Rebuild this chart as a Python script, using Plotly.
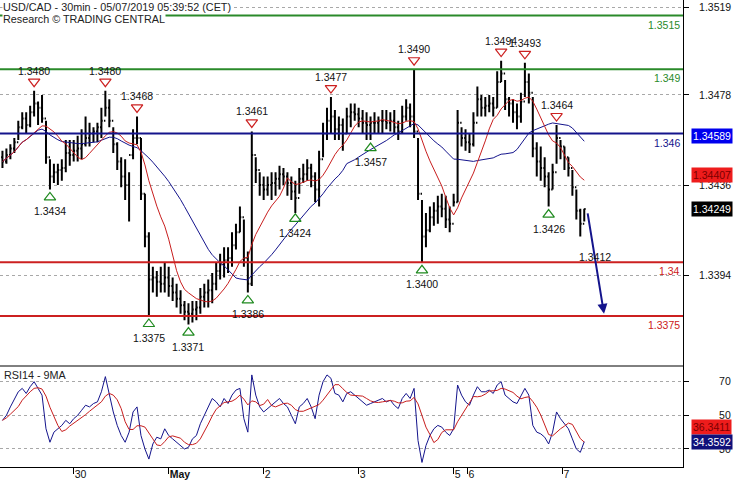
import numpy as np
import pandas as pd
import plotly.graph_objects as go

# ---------------- data ----------------
# bar index = hours since 30 Apr 2019 00:00 CET (weekend gap removed)
bar_idx = list(range(-18, 130))

highs = [
    1.3452, 1.3453, 1.3455, 1.3458, 1.3466, 1.3470, 1.3470, 1.3473, 1.3480, 1.3475,
    1.3478, 1.3466, 1.3448, 1.3446, 1.3446, 1.3448, 1.3457, 1.3457,
    1.3457, 1.3459, 1.3462, 1.3468, 1.3465, 1.3463, 1.3465, 1.3472, 1.3480, 1.3476,
    1.3463, 1.3456, 1.3449, 1.3448, 1.3442, 1.3462, 1.3468, 1.3458, 1.3432, 1.3414,
    1.3398, 1.3396, 1.3398, 1.3400, 1.3398, 1.3393, 1.3390, 1.3387, 1.3382, 1.3381,
    1.3382, 1.3382, 1.3388, 1.3390, 1.3392, 1.3395, 1.3400, 1.3404, 1.3407, 1.3407,
    1.3414, 1.3418, 1.3426, 1.3420, 1.3405, 1.3461, 1.3449, 1.3442, 1.3440, 1.3440,
    1.3442, 1.3442, 1.3445, 1.3444, 1.3442, 1.3440, 1.3438, 1.3444, 1.3446, 1.3448,
    1.3446, 1.3442, 1.3452, 1.3465, 1.3472, 1.3477, 1.3471, 1.3468, 1.3467, 1.3472,
    1.3474, 1.3474, 1.3472, 1.3471, 1.3470, 1.3468, 1.3470, 1.3468, 1.3471, 1.3471,
    1.3470, 1.3471, 1.3466, 1.3473, 1.3476, 1.3474, 1.3490, 1.3458, 1.3429, 1.3423,
    1.3426, 1.3428, 1.3431, 1.3432, 1.3431, 1.3426, 1.3432, 1.3471, 1.3463, 1.3462,
    1.3460, 1.3470, 1.3482, 1.3478, 1.3477, 1.3478, 1.3477, 1.3489, 1.3494, 1.3485,
    1.3477, 1.3476, 1.3474, 1.3479, 1.3493, 1.3488, 1.3477, 1.3456, 1.3454, 1.3449,
    1.3442, 1.3446, 1.3464, 1.3457, 1.3454, 1.3449, 1.3443, 1.3434, 1.3425, 1.3425,
]
lows = [
    1.3444, 1.3446, 1.3448, 1.3451, 1.3457, 1.3462, 1.3460, 1.3463, 1.3468, 1.3464,
    1.3465, 1.3446, 1.3434, 1.3437, 1.3436, 1.3438, 1.3442, 1.3445,
    1.3447, 1.3447, 1.3448, 1.3454, 1.3454, 1.3456, 1.3456, 1.3458, 1.3468, 1.3463,
    1.3451, 1.3443, 1.3435, 1.3429, 1.3419, 1.3448, 1.3455, 1.3429, 1.3407, 1.3375,
    1.3386, 1.3384, 1.3386, 1.3386, 1.3384, 1.3382, 1.3379, 1.3376, 1.3373, 1.3371,
    1.3372, 1.3373, 1.3376, 1.3379, 1.3379, 1.3381, 1.3387, 1.3392, 1.3393, 1.3395,
    1.3398, 1.3406, 1.3414, 1.3398, 1.3386, 1.3389, 1.3437, 1.3431, 1.3429, 1.3431,
    1.3429, 1.3431, 1.3434, 1.3436, 1.3431, 1.3429, 1.3423, 1.3432, 1.3437, 1.3438,
    1.3435, 1.3428, 1.3426, 1.3449, 1.3457, 1.3460, 1.3457, 1.3457, 1.3452, 1.3460,
    1.3463, 1.3466, 1.3463, 1.3460, 1.3457, 1.3457, 1.3460, 1.3460, 1.3460, 1.3462,
    1.3461, 1.3460, 1.3457, 1.3460, 1.3466, 1.3463, 1.3458, 1.3429, 1.3400, 1.3407,
    1.3414, 1.3417, 1.3418, 1.3421, 1.3416, 1.3414, 1.3426, 1.3428, 1.3454, 1.3452,
    1.3451, 1.3454, 1.3468, 1.3468, 1.3468, 1.3470, 1.3468, 1.3472, 1.3484, 1.3471,
    1.3468, 1.3465, 1.3462, 1.3465, 1.3477, 1.3474, 1.3449, 1.3440, 1.3438, 1.3435,
    1.3426, 1.3434, 1.3446, 1.3448, 1.3443, 1.3440, 1.3431, 1.3420, 1.3412, 1.3419,
]
closes = [
    1.3447, 1.3450, 1.3453, 1.3456, 1.3463, 1.3467, 1.3464, 1.3470, 1.3474, 1.3472,
    1.3467, 1.3449, 1.3440, 1.3442, 1.3443, 1.3444, 1.3451, 1.3450,
    1.3452, 1.3453, 1.3455, 1.3458, 1.3460, 1.3461, 1.3463, 1.3466, 1.3472, 1.3466,
    1.3455, 1.3447, 1.3440, 1.3436, 1.3450, 1.3458, 1.3458, 1.3432, 1.3412, 1.3392,
    1.3393, 1.3391, 1.3390, 1.3393, 1.3389, 1.3386, 1.3383, 1.3380, 1.3377, 1.3376,
    1.3378, 1.3379, 1.3384, 1.3386, 1.3387, 1.3390, 1.3396, 1.3399, 1.3401, 1.3402,
    1.3408, 1.3414, 1.3421, 1.3402, 1.3390, 1.3450, 1.3443, 1.3436, 1.3434, 1.3436,
    1.3437, 1.3439, 1.3441, 1.3440, 1.3437, 1.3433, 1.3430, 1.3439, 1.3441, 1.3444,
    1.3440, 1.3434, 1.3448, 1.3460, 1.3466, 1.3468, 1.3462, 1.3464, 1.3460, 1.3468,
    1.3470, 1.3469, 1.3467, 1.3465, 1.3464, 1.3465, 1.3465, 1.3466, 1.3466, 1.3465,
    1.3466, 1.3463, 1.3461, 1.3468, 1.3472, 1.3468, 1.3461, 1.3432, 1.3412, 1.3415,
    1.3421, 1.3424, 1.3426, 1.3425, 1.3420, 1.3418, 1.3428, 1.3465, 1.3458, 1.3456,
    1.3455, 1.3465, 1.3476, 1.3472, 1.3473, 1.3474, 1.3472, 1.3484, 1.3488, 1.3476,
    1.3474, 1.3470, 1.3468, 1.3475, 1.3484, 1.3479, 1.3453, 1.3447, 1.3444, 1.3440,
    1.3434, 1.3442, 1.3458, 1.3454, 1.3449, 1.3444, 1.3435, 1.3424, 1.3418, 1.34249,
]
first_open = 1.3449

# RSI(14), one value per bar
rsi_vals = [
    47, 50, 55, 60, 64, 66, 63, 67, 70, 66,
    62, 42, 34, 40, 42, 44, 47, 45,
    48, 50, 53, 56, 55, 57, 58, 64, 73, 63,
    52, 44, 38, 34, 40, 52, 55, 38, 30, 24,
    33, 37, 36, 42, 38, 36, 34, 32, 30, 31,
    36, 38, 45, 50, 55, 60, 58, 55, 60, 57,
    62, 65, 66, 48, 40, 74, 62, 55, 52, 54,
    56, 58, 60, 57, 55, 50, 45, 55, 57, 60,
    55, 48, 62, 70, 74, 72, 63, 62, 58, 63,
    64, 62, 60, 58, 56, 57, 58, 59, 60, 58,
    59, 56, 54, 60, 63, 60, 66, 35, 22, 32,
    38, 42, 44, 43, 40, 38, 42, 68, 62, 58,
    56, 62, 67, 64, 64, 65, 63, 68, 70, 62,
    60, 58, 57, 62, 66, 62, 44, 40, 39, 37,
    33, 40, 52, 48, 45, 42, 36, 30, 28, 34.3592,
]

# day ticks (bar index of each midnight)
day_tick_idx = [0, 24, 48, 72, 96, 99.5, 123.5]
day_tick_txt = ["30", "<b>May</b>", "2", "3", "5", "6", "7"]

price_ticks = [1.3519, 1.3478, 1.3436, 1.3394]
rsi_ticks = [70, 50, 30]

# support / resistance levels
levels = [1.3515, 1.349, 1.346, 1.34, 1.3375]
level_txt = ["1.3515", "1.349", "1.346", "1.34", "1.3375"]
level_col = ["#2a8a2a", "#2a8a2a", "#14148c", "#cc2020", "#cc2020"]

# swing highs / lows (bar index, price)
swing_hi_idx = [-10, 8, 16, 45, 65, 86, 108, 114, 122]
swing_hi_val = [1.3480, 1.3480, 1.3468, 1.3461, 1.3477, 1.3490, 1.3494, 1.3493, 1.3464]
swing_lo_idx = [-6, 19, 29, 44, 56, 75, 88, 120]
swing_lo_val = [1.3434, 1.3375, 1.3371, 1.3386, 1.3424, 1.3457, 1.3400, 1.3426]

# projection
proj_from = (129.8, 1.34235)
proj_to = (134.0, 1.3376)
proj_label = "1.3412"

# indicator end values (badges)
ma_fast_last = 1.34407
ma_slow_last = 1.34589
rsi_last = 34.3592
rsi_ma_last = 36.3411

# ---------------- derived series ----------------
c = pd.Series(closes)
opens = [first_open] + closes[:-1]
ma_fast = c.rolling(10, min_periods=1).mean()
ma_slow = c.rolling(25, min_periods=1).mean()
rsi = pd.Series(rsi_vals)
rsi_ma = rsi.rolling(5, min_periods=1).mean()

# ---------------- layout geometry ----------------
W, H = 735, 480
ML, MR, MT, MB = 0, 52, 0, 13
PW, PH = W - ML - MR, H - MT - MB
sep_px = 366  # panel separator (px from top)
price_dom = [1 - sep_px / PH, 1]
rsi_dom = [0, 1 - sep_px / PH]
x_range = [-18.62, 153.95]
y_range = [1.33517, 1.352226]
r_range = [19.3, 79.3]
px_per_price = sep_px / (y_range[1] - y_range[0])
px_per_bar = PW / (x_range[1] - x_range[0])

FONT = "Liberation Sans, Arial, sans-serif"
fig = go.Figure()

fig.add_trace(go.Ohlc(
    x=bar_idx, open=opens, high=highs, low=lows, close=closes,
    increasing=dict(line=dict(color="black", width=2)),
    decreasing=dict(line=dict(color="black", width=2)),
    tickwidth=0.35, xaxis="x", yaxis="y", showlegend=False, hoverinfo="skip"))
fig.add_trace(go.Scatter(x=bar_idx, y=ma_slow, mode="lines",
                         line=dict(color="#14148c", width=1), yaxis="y", showlegend=False))
fig.add_trace(go.Scatter(x=bar_idx, y=ma_fast, mode="lines",
                         line=dict(color="#c81e1e", width=1), yaxis="y", showlegend=False))

# swing markers
fig.add_trace(go.Scatter(
    x=swing_hi_idx, y=[v + 9 / px_per_price for v in swing_hi_val], mode="markers",
    marker=dict(symbol="triangle-down-open", size=10, color="#cc2020", line=dict(width=1.2)),
    yaxis="y", showlegend=False))
fig.add_trace(go.Scatter(
    x=swing_lo_idx, y=[v - 8 / px_per_price for v in swing_lo_val], mode="markers",
    marker=dict(symbol="triangle-up-open", size=10, color="#1f8a1f", line=dict(width=1.2)),
    yaxis="y", showlegend=False))

# RSI
fig.add_trace(go.Scatter(x=bar_idx, y=rsi, mode="lines", line=dict(color="#14148c", width=1),
                         xaxis="x", yaxis="y2", showlegend=False))
fig.add_trace(go.Scatter(x=bar_idx, y=rsi_ma, mode="lines", line=dict(color="#c81e1e", width=1),
                         xaxis="x", yaxis="y2", showlegend=False))

# badge arrows (left-pointing)
x_badge_arrow = x_range[1] + 5 / px_per_bar
fig.add_trace(go.Scatter(x=[x_badge_arrow], y=[ma_fast_last], mode="markers", cliponaxis=False,
                         marker=dict(symbol="triangle-left", size=12, color="#ee1c1c"),
                         yaxis="y", showlegend=False))
fig.add_trace(go.Scatter(x=[x_badge_arrow], y=[rsi_last], mode="markers", cliponaxis=False,
                         marker=dict(symbol="triangle-left", size=12, color="#10107a"),
                         yaxis="y2", showlegend=False))

shapes = []
for lv, col in zip(levels, level_col):
    shapes.append(dict(type="line", xref="paper", x0=0, x1=1, yref="y", y0=lv, y1=lv,
                       line=dict(color=col, width=2), layer="above"))
shapes.append(dict(type="line", xref="paper", x0=0, x1=1, yref="paper",
                   y0=rsi_dom[1], y1=rsi_dom[1], line=dict(color="black", width=1)))

ann = []
for lv, t, col in zip(levels, level_txt, level_col):
    ann.append(dict(xref="paper", x=1, xanchor="right", xshift=-1, yref="y", y=lv,
                    yanchor="top", yshift=-1, text=t, showarrow=False,
                    font=dict(family=FONT, size=10.5, color=col)))
for i, v in zip(swing_hi_idx, swing_hi_val):
    ann.append(dict(x=i, y=v, yref="y", yshift=20, text=f"{v:.4f}", showarrow=False,
                    font=dict(family=FONT, size=10.5, color="#111")))
for i, v in zip(swing_lo_idx, swing_lo_val):
    ann.append(dict(x=i, y=v, yref="y", yshift=-22, text=f"{v:.4f}", showarrow=False,
                    font=dict(family=FONT, size=10.5, color="#111")))
# projection arrow
ann.append(dict(x=proj_to[0], y=proj_to[1], ax=proj_from[0], ay=proj_from[1], axref="x", ayref="y",
                xref="x", yref="y", showarrow=True, arrowhead=2, arrowsize=1, arrowwidth=2,
                arrowcolor="#14148c", text=""))
ann.append(dict(x=131.7, y=1.3400, yref="y", yshift=5, text=proj_label, showarrow=False,
                font=dict(family=FONT, size=10.5, color="#111")))

# badges
def badge(y, yref, text, bg, fg, yshift=0):
    return dict(xref="paper", x=1, xanchor="left", xshift=8, yref=yref, y=y, yanchor="middle",
                yshift=yshift, text=text, showarrow=False, bgcolor=bg, borderpad=1,
                font=dict(family=FONT, size=10.5, color=fg))

ann.append(badge(ma_slow_last, "y", f"{ma_slow_last:.5f}", "#0000ee", "white"))
ann.append(badge(ma_fast_last, "y", f"{ma_fast_last:.5f}", "#ee1c1c", "#7a0000"))
ann.append(badge(closes[-1], "y", f"{closes[-1]:.5f}", "black", "white"))
ann.append(badge(rsi_ma_last, "y2", f"{rsi_ma_last:.4f}", "#ee1c1c", "#7a0000", yshift=11))
ann.append(badge(rsi_last, "y2", f"{rsi_last:.4f}", "#10107a", "white"))

# titles
ann.append(dict(xref="paper", x=0, xanchor="left", xshift=2, yref="paper", y=1, yanchor="top",
                text="USD/CAD - 30min - 05/07/2019 05:39:52 (CET)", showarrow=False,
                bgcolor="white", borderpad=0, font=dict(family=FONT, size=10.8, color="#222")))
ann.append(dict(xref="paper", x=0, xanchor="left", xshift=2, yref="paper", y=1, yanchor="top",
                yshift=-12, text="Research © TRADING CENTRAL", showarrow=False,
                bgcolor="white", borderpad=0, font=dict(family=FONT, size=10.8, color="#222")))
ann.append(dict(xref="paper", x=0, xanchor="left", xshift=2, yref="paper", y=rsi_dom[1],
                yanchor="top", yshift=-1, text="RSI14 - 9MA", showarrow=False,
                font=dict(family=FONT, size=10.8, color="#222")))

axis_font = dict(family=FONT, size=10.5, color="#111")
fig.update_layout(
    width=W, height=H, margin=dict(l=ML, r=MR, t=MT, b=MB, autoexpand=False),
    plot_bgcolor="white", paper_bgcolor="white", showlegend=False,
    shapes=shapes, annotations=ann,
    xaxis=dict(range=x_range, anchor="y2", tickvals=day_tick_idx, ticktext=day_tick_txt,
               ticks="outside", ticklen=6, tickcolor="black", showline=True, linecolor="black",
               showgrid=False, zeroline=False, rangeslider=dict(visible=False), tickangle=0,
               automargin=False, ticklabelposition="outside right", tickfont=axis_font,
               ticklabelstandoff=-3),
    yaxis=dict(domain=price_dom, range=y_range, side="right", tickvals=price_ticks,
               ticktext=[f"{v:.4f}" for v in price_ticks], showgrid=True, gridcolor="#a8a8a8",
               griddash="dot", showline=True, linecolor="black", ticks="outside", ticklen=5,
               tickcolor="black", zeroline=False, tickfont=axis_font, ticklabelstandoff=8,
               automargin=False),
    yaxis2=dict(domain=rsi_dom, range=r_range, side="right", tickvals=rsi_ticks,
                showgrid=True, gridcolor="#a8a8a8", griddash="dot", showline=True,
                linecolor="black", ticks="outside", ticklen=5, tickcolor="black",
                zeroline=False, tickfont=axis_font, ticklabelstandoff=28, anchor="x",
                automargin=False),
)

fig.write_html("out.html", config={"displayModeBar": False},
               post_script="document.body.style.margin='0px';")
